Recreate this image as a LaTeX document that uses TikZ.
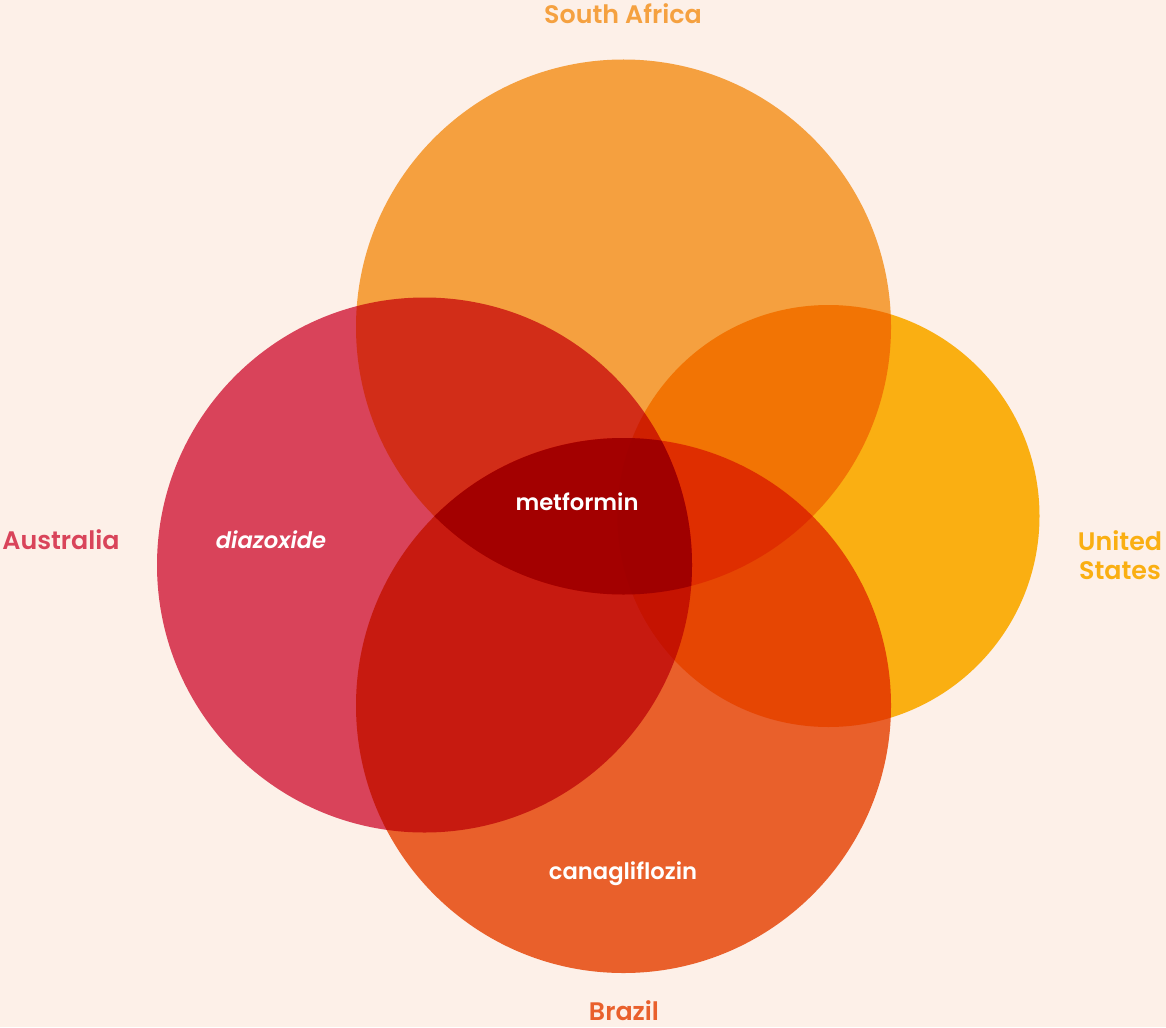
\documentclass[tikz,border=0pt]{standalone}
\usepackage{fontspec}
\setmainfont{Poppins}[BoldFont={Poppins SemiBold},BoldItalicFont={Poppins SemiBold Italic}]
\definecolor{bgcream}{HTML}{FDF0E8}
\definecolor{safrica}{RGB}{247,171,70}
\definecolor{austral}{RGB}{219,72,99}
\definecolor{ustates}{RGB}{252,186,20}
\definecolor{brazil}{RGB}{235,102,48}
\definecolor{coreset}{RGB}{216,0,0}
\definecolor{safricatxt}{HTML}{F5A140}
\definecolor{australtxt}{HTML}{D9445A}
\definecolor{ustatestxt}{HTML}{FAAF12}
\definecolor{braziltxt}{HTML}{E9602C}
\begin{document}
\begin{tikzpicture}[x=0.75pt,y=-0.75pt,
    country/.style={font=\bfseries\fontsize{19}{21.75}\selectfont,inner sep=0pt},
    drug/.style={text=white,font=\bfseries\fontsize{17}{20}\selectfont,inner sep=0pt}]
  \fill[bgcream] (0,0) rectangle (1166,1027);
  \useasboundingbox (0,0) rectangle (1166,1027);
  % sets
  \begin{scope}[blend mode=multiply]
    \fill[safrica] (623.5,327) circle (267.5);
    \fill[austral] (424.5,565) circle (267.5);
    \fill[ustates] (828.5,516) circle (211);
    \fill[brazil] (623.5,705.5) circle (267.5);
  \end{scope}
  % darker core: South Africa, Australia and Brazil
  \begin{scope}
    \clip (623.5,327) circle (267.5);
    \clip (424.5,565) circle (267.5);
    \fill[coreset,blend mode=multiply] (623.5,705.5) circle (267.5);
  \end{scope}
  % labels
  \node[country,text=safricatxt,anchor=base] (sa) at (623,24) {South Africa};
  \node[country,text=australtxt,anchor=base] (au) at (61,549) {Australia};
  \node[country,text=ustatestxt,align=center] (us) at (1120,555) {United\\States};
  \node[country,text=braziltxt,anchor=base] (br) at (624,1020) {Brazil};
  \node[drug,anchor=base] (met) at (577,510) {metformin};
  \node[drug,anchor=base] (dia) at (271,548) {\itshape diazoxide};
  \node[drug,anchor=base] (can) at (623,879) {canagliflozin};
\end{tikzpicture}
\end{document}
